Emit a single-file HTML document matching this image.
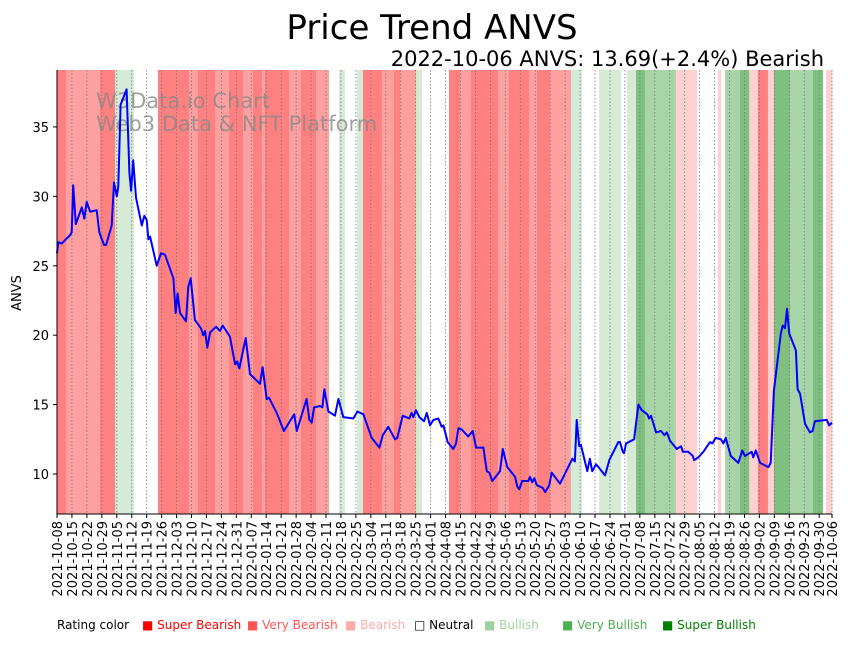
<!DOCTYPE html>
<html><head><meta charset="utf-8"><style>
body{margin:0;background:#fff;font-family:"Liberation Sans","DejaVu Sans",sans-serif}
svg text{font-family:"DejaVu Sans","Liberation Sans",sans-serif}
</style></head><body>
<svg id="chart" width="851" height="641" viewBox="0 0 851 641" xmlns="http://www.w3.org/2000/svg">
<text x="432" y="39" font-size="34" text-anchor="middle">Price Trend ANVS</text>
<text x="824" y="66" font-size="21" text-anchor="end">2022-10-06 ANVS: 13.69(+2.4%) Bearish</text>
<g id="bands"></g>
<g id="grid"></g>
<text x="96" y="108" font-size="21" fill="#888" fill-opacity="0.8">W3Data.io Chart</text>
<text x="96" y="131" font-size="21" fill="#888" fill-opacity="0.8">Web3 Data &amp; NFT Platform</text>
<path id="line" fill="none" stroke="#0000ff" stroke-width="2" stroke-linejoin="round"></path>
<g id="axes"></g>
<text transform="translate(21,293) rotate(-90)" font-size="13" text-anchor="middle">ANVS</text>
<g font-size="12">
<text x="57" y="629">Rating color</text>
<text x="142" y="629" fill="#ff0000">■ Super Bearish</text>
<text x="247" y="629" fill="#ff5555">■ Very Bearish</text>
<text x="345" y="629" fill="#ffaaaa">■ Bearish</text>
<text x="414" y="629" fill="#000">□ Neutral</text>
<text x="484" y="629" fill="#a0d0a0">■ Bullish</text>
<text x="562" y="629" fill="#4caf50">■ Very Bullish</text>
<text x="662" y="629" fill="#008000">■ Super Bullish</text>
</g>
</svg>
<script>
const priceDays=[0,0.6,2.2,6.1,6.9,7.6,8.8,11.6,12.8,13.9,15.5,18.6,19.8,22,23,25.6,26.7,28,28.7,29.8,32.6,33.9,34.7,35.7,37,39.7,40.9,42,42.8,43.6,46.7,48.7,50.6,54.5,55.6,56.5,57.6,60.4,61.5,62.6,64.6,67.4,68.5,69.3,70.4,71.7,74.5,76.3,77.6,81,83.4,84.4,85.4,88.4,90.4,95.1,96.3,98.2,99.3,102.9,106.3,111.1,112.3,116.9,118.2,119.3,120.4,123.2,124.3,125.2,127.1,130.2,131.8,134.1,138.8,140.7,143.5,145.1,147.4,151,152.6,155.2,158.3,159.4,161.9,165,166.1,166.9,168.1,169.7,171.9,173.2,174.7,176.3,178.6,180.2,181,183,185.6,186.9,188,189.6,192.6,194.7,196.3,199.7,201.3,202.5,203.9,207.5,208.8,210.9,214.5,215.6,216.5,217.9,220.8,221.5,222.6,223.6,224.7,227.5,228.6,230.6,231.7,235.6,241.4,242.6,243.4,244.6,245.4,248.4,249.6,250.7,252.5,256.7,258.7,262.9,263.7,265,265.6,266.5,270.3,272.3,273.9,276.5,277.3,278.2,280.6,282.9,284.5,285.6,287.1,290.3,292.3,293.1,295.7,297.8,298.4,300.4,302.7,305.9,307,308.5,311,312.1,313.2,315.6,319.1,321,322.2,325.4,326.1,327.3,329.3,333.2,334.3,335.8,339,339.9,341,341.9,343,346.1,346.9,348,350.4,352.7,353.9,355,360.5,361.7,363];
const priceValues=[25.9,26.7,26.6,27.2,27.4,30.8,28.0,29.2,28.4,29.6,28.9,29.0,27.4,26.5,26.5,27.9,31.0,30.0,30.7,36.6,37.7,31.7,30.4,32.6,29.9,27.9,28.6,28.3,26.9,27.1,25.0,25.9,25.8,24.1,21.6,23.0,21.6,21.0,23.5,24.1,21.1,20.5,20.0,20.3,19.1,20.2,20.6,20.3,20.7,19.9,17.9,18.1,17.6,19.8,17.2,16.5,17.7,15.4,15.5,14.4,13.1,14.3,13.1,15.4,13.9,13.7,14.8,14.9,14.8,16.1,14.5,14.2,15.4,14.1,14.0,14.5,14.3,13.6,12.6,11.9,12.8,13.4,12.5,12.6,14.2,14.0,14.4,14.1,14.6,14.1,13.8,14.4,13.5,13.9,14.0,13.4,13.5,12.3,11.8,12.2,13.3,13.2,12.7,13.1,11.9,11.9,10.2,10.1,9.5,10.2,11.8,10.5,9.8,9.1,8.9,9.5,9.5,9.8,9.4,9.7,9.2,9.0,8.7,9.2,10.1,9.3,11.1,10.9,13.9,12.0,12.1,10.2,11.1,10.2,10.7,9.9,11.0,12.3,12.3,11.6,11.5,12.2,12.5,15.0,14.6,14.3,14.0,14.2,13.0,13.1,12.8,13.0,12.4,11.8,12.0,11.6,11.6,11.3,11.0,11.2,11.6,12.3,12.2,12.6,12.5,12.2,12.6,11.3,10.8,11.7,11.3,11.6,11.2,11.7,10.8,10.5,10.8,16.0,20.1,20.7,20.5,21.9,20.1,18.9,16.1,15.8,13.6,13.0,13.1,13.8,13.9,13.5,13.7];
const bandEnds=[4.2,20.1,27.2,36.1,47.3,61.8,66,74,80.6,87.1,91.8,96,97.4,108.7,114.3,121.3,127.4,132.1,134.9,140.5,143.3,152.2,157.8,160.7,168.1,171,183.6,188.8,193.9,206.6,211.7,221.1,224.8,230.9,240.7,245.9,253.9,264.2,267,271.2,275.4,289.9,299.8,309.6,311,312.9,319.9,324.2,328.3,333,335.8,343.3,354.1,358.8,360.2,363];
const bandLevels=[-3,-2,-3,1,0,-3,-2,-3,-2,-3,-2,-3,-2,-3,-2,-3,-2,0,1,0,1,-3,-2,-3,-2,1,0,-3,-2,-3,-2,-3,-2,-3,-2,1,0,1,0,1,3,2,-1,0,-1,0,2,3,-1,-3,-1,3,2,3,0,-1];
const yTicks=[10,15,20,25,30,35];
const xTickDays=[];for(let k=0;k<=51;k++)xTickDays.push(k*7);xTickDays.push(363);
const X0=57,X1=832,Y0=514,Y1=70,DMIN=0,DMAX=363,VMIN=7.12,VMAX=39.1;
const xs=d=>X0+(d-DMIN)/(DMAX-DMIN)*(X1-X0);
const ys=v=>Y0-(v-VMIN)/(VMAX-VMIN)*(Y0-Y1);
const NS='http://www.w3.org/2000/svg';
const colors={'-3':'#ff8080','-2':'#ffa0a0','-1':'#ffd0d0','0':'#ffffff','1':'#d5ebd5','2':'#a8d5a8','3':'#7fbf7f'};
const bands=document.getElementById('bands');
let prev=0;
bandEnds.forEach((e,i)=>{const r=document.createElementNS(NS,'rect');


r.setAttribute('x',xs(prev));r.setAttribute('width',Math.max(0,xs(e)-xs(prev)+0.3));
r.setAttribute('y',Y1);r.setAttribute('height',Y0-Y1);r.setAttribute('fill',colors[bandLevels[i]]);
bands.appendChild(r);prev=e;});
const grid=document.getElementById('grid'),axes=document.getElementById('axes');
const fmt=d=>{const t=new Date(Date.UTC(2021,9,8)+d*86400000);return t.toISOString().slice(0,10);};
xTickDays.forEach(d=>{const x=xs(d);
const l=document.createElementNS(NS,'line');


l.setAttribute('x1',x);l.setAttribute('x2',x);l.setAttribute('y1',Y1);l.setAttribute('y2',Y0);
l.setAttribute('stroke','#777');l.setAttribute('stroke-width','0.8');l.setAttribute('stroke-dasharray','1.5,2');grid.appendChild(l);
const t=document.createElementNS(NS,'line');


t.setAttribute('x1',x);t.setAttribute('x2',x);t.setAttribute('y1',Y0);t.setAttribute('y2',Y0+4);t.setAttribute('stroke','#000');axes.appendChild(t);
const tx=document.createElementNS(NS,'text');


tx.setAttribute('transform',`translate(${x+5},${Y0+7}) rotate(-90)`);tx.setAttribute('text-anchor','end');tx.setAttribute('font-size','13');
tx.textContent=fmt(d);axes.appendChild(tx);});
yTicks.forEach(v=>{const y=ys(v);
const t=document.createElementNS(NS,'line');


t.setAttribute('x1',X0-4);t.setAttribute('x2',X0);t.setAttribute('y1',y);t.setAttribute('y2',y);t.setAttribute('stroke','#000');axes.appendChild(t);
const tx=document.createElementNS(NS,'text');


tx.setAttribute('x',X0-8);tx.setAttribute('y',y+5);tx.setAttribute('text-anchor','end');tx.setAttribute('font-size','13');
tx.textContent=v;axes.appendChild(tx);});
const sp=document.createElementNS(NS,'path');


sp.setAttribute('d',`M${X0},${Y1}V${Y0}H${X1}`);sp.setAttribute('stroke','#000');sp.setAttribute('fill','none');axes.appendChild(sp);
document.getElementById('line').setAttribute('d',priceDays.map((d,i)=>(i?'L':'M')+xs(d).toFixed(1)+','+ys(priceValues[i]).toFixed(1)).join(''));
</script>
</body></html>
